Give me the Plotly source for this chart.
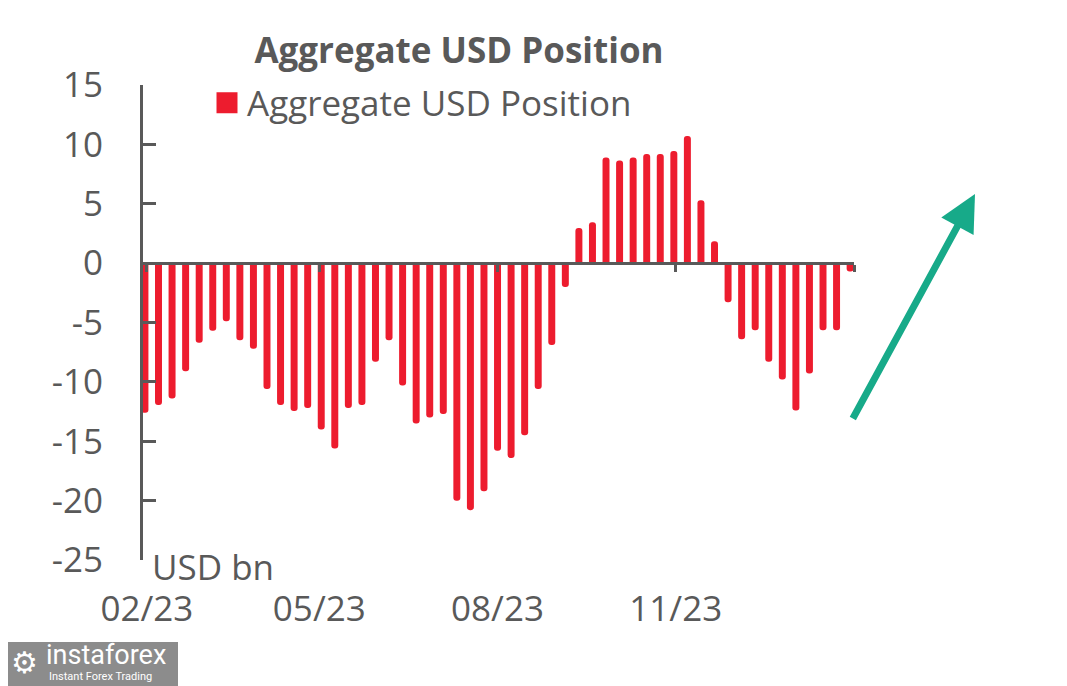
import pandas as pd
import plotly.graph_objects as go

# ---- data ----
dates = pd.date_range("2023-01-31", periods=53, freq="7D")
values = [-12.6, -11.95, -11.4, -9.1, -6.7, -5.7, -4.9, -6.5, -7.2, -10.6,
          -11.95, -12.45, -12.2, -14.0, -15.6, -12.2, -11.95, -8.3, -6.5, -10.3,
          -13.5, -13.0, -12.7, -20.0, -20.8, -19.2, -15.8, -16.4, -14.5, -10.6,
          -6.9, -2.0, 2.95, 3.45, 8.9, 8.65, 8.9, 9.2, 9.2, 9.45,
          10.7, 5.3, 1.85, -3.3, -6.4, -5.65, -8.3, -9.8, -12.4, -9.3,
          -5.65, -5.65, -0.7]
tick_dates = ["2023-02-01", "2023-05-01", "2023-08-01", "2023-11-01"]
tick_labels = ["02/23", "05/23", "08/23", "11/23"]
end_tick = "2024-02-01"
y_ticks = [-25, -20, -15, -10, -5, 0, 5, 10, 15]
y_tick_labels = ["-25", "-20", "-15", "-10", "-5", "0", "5", "10", "15"]

series_name = "Aggregate USD Position"
RED = "#ED1C2E"
GREY = "#595959"
FONT = "Open Sans"

x_range = ["2023-01-30", "2024-02-01"]
bar_width_ms = 3.6 * 86400000

# page has an 8px body margin: work in reference pixels, shift by OFF
OFF = 8
W, H = 1067 - OFF, 686 - OFF
def fx(x):
    return x - OFF
PL, PR, PT, PB = fx(143), fx(854), fx(85), fx(560)   # plot area edges (figure px)
L, R, T, B = PL, W - PR, PT, H - PB
pw, ph = PR - PL, PB - PT
def px(xr):
    return (fx(xr) - PL) / pw
def py(yr):
    return (PB - fx(yr)) / ph

fig = go.Figure()
fig.add_trace(go.Bar(
    x=dates, y=values, name=series_name, legendgroup="usd", showlegend=False,
    marker=dict(color=RED, cornerradius=3, line=dict(width=0)),
    width=bar_width_ms,
))
# legend key (square swatch) for the bar series
fig.add_trace(go.Scatter(x=[None], y=[None], name=series_name, legendgroup="usd", mode="markers",
                         marker=dict(symbol="square", size=16, color=RED, line=dict(color=RED, width=5)),
                         hoverinfo="skip"))
# carrier for the bottom date-label axis
fig.add_trace(go.Scatter(x=tick_dates, y=[None] * len(tick_dates), xaxis="x2", mode="markers",
                         showlegend=False, hoverinfo="skip"))

fig.update_layout(
    width=W, height=H,
    margin=dict(l=L, r=R, t=T, b=B, pad=0, autoexpand=False),
    paper_bgcolor="white", plot_bgcolor="white",
    font=dict(family=FONT, color=GREY, size=35),
    title=dict(text="<b>Aggregate USD Position</b>", x=fx(459) / W, xanchor="center",
               y=1 - fx(51) / H, yanchor="middle", xref="container", yref="container",
               font=dict(family=FONT, size=35, color=GREY)),
    showlegend=True,
    legend=dict(x=px(207), xanchor="left", y=py(103), yanchor="middle",
                bgcolor="rgba(0,0,0,0)", borderwidth=0, itemsizing="trace",
                font=dict(family=FONT, size=35, color=GREY)),
    xaxis=dict(type="date", range=x_range, anchor="free", position=25 / 40,
               showline=True, linewidth=3, linecolor=GREY,
               ticks="outside", ticklen=7, tickwidth=3, tickcolor=GREY,
               tickvals=tick_dates + [end_tick], showticklabels=False,
               showgrid=False, zeroline=False),
    xaxis2=dict(type="date", range=x_range, overlaying="x", anchor="y", side="bottom",
                showline=False, ticks="", tickvals=tick_dates, ticktext=tick_labels,
                showgrid=False, zeroline=False, ticklabelstandoff=25,
                tickfont=dict(family=FONT, size=35, color=GREY)),
    yaxis=dict(range=[-25, 15], tickvals=y_ticks, ticktext=y_tick_labels,
               showline=True, linewidth=3, linecolor=GREY,
               ticks="inside", ticklen=13, tickwidth=3, tickcolor=GREY,
               showgrid=False, zeroline=False, ticklabelstandoff=30,
               tickfont=dict(family=FONT, size=35, color=GREY)),
)

# unit label
fig.add_annotation(text="USD bn", x=px(150), y=py(566), xref="paper", yref="paper",
                   xanchor="left", yanchor="middle", showarrow=False,
                   font=dict(family=FONT, size=35, color=GREY))

# green arrow
fig.add_annotation(text="", x=px(975), y=py(194), xref="paper", yref="paper",
                   ax=852 - 975, ay=420 - 194, axref="pixel", ayref="pixel",
                   showarrow=True, arrowhead=2, arrowsize=1.05, arrowwidth=7,
                   arrowcolor="#17AA89", standoff=0, startstandoff=0)

# watermark logo
fig.add_shape(type="rect", xref="paper", yref="paper", x0=px(0), x1=px(178), y0=py(690), y1=py(642),
              fillcolor="#8C8C8C", line=dict(width=0), layer="above")
fig.add_annotation(text="⚙", x=px(24), y=py(662), xref="paper", yref="paper", showarrow=False,
                   xanchor="center", yanchor="middle", font=dict(family="DejaVu Sans", size=30, color="white"))
fig.add_annotation(text="instaforex", x=px(44), y=py(655), xref="paper", yref="paper", showarrow=False,
                   xanchor="left", yanchor="middle", font=dict(family="Roboto", size=27, color="white"))
fig.add_annotation(text="Instant Forex Trading", x=px(47), y=py(676), xref="paper", yref="paper",
                   showarrow=False, xanchor="left", yanchor="middle",
                   font=dict(family="Roboto", size=11, color="white"))

fig.write_html("out.html")
